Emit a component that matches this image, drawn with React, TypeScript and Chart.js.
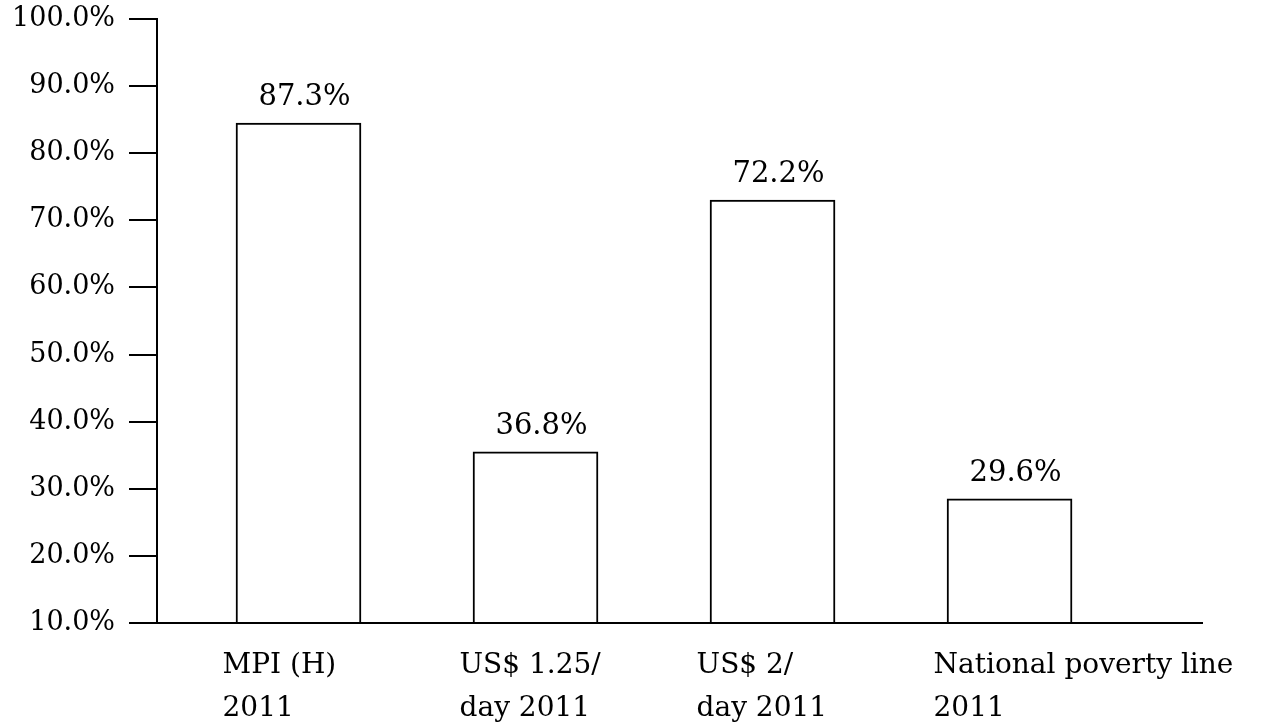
import React, { useEffect, useRef } from 'react';
import { Chart, registerables } from 'chart.js';

Chart.register(...registerables);

// ---- data ----
const categories: string[][] = [
  ['MPI (H)', '2011'],
  ['US$ 1.25/', 'day 2011'],
  ['US$ 2/', 'day 2011'],
  ['National poverty line', '2011'],
];
// bar heights as drawn in the picture
const barValues: number[] = [84.5, 35.5, 73.0, 28.5];
// labels printed above the bars
const valueLabels: string[] = ['87.3%', '36.8%', '72.2%', '29.6%'];
const yMin = 10;
const yMax = 100;
const yStep = 10;

const FONT = "'DejaVu Serif', 'Liberation Serif', serif";

const valueLabelPlugin = {
  id: 'valueLabels',
  afterDatasetsDraw(chart: any) {
    const ctx = chart.ctx;
    const meta = chart.getDatasetMeta(0);
    ctx.save();
    ctx.font = `29px ${FONT}`;
    ctx.fillStyle = '#000';
    ctx.textAlign = 'center';
    ctx.textBaseline = 'alphabetic';
    meta.data.forEach((bar: any, i: number) => {
      ctx.fillText(valueLabels[i], bar.x + 6, bar.y - 18);
    });
    ctx.restore();
  },
};

export default function App() {
  const canvasRef = useRef<HTMLCanvasElement | null>(null);

  useEffect(() => {
    if (!canvasRef.current) return;
    const chart = new Chart(canvasRef.current, {
      type: 'bar',
      data: {
        datasets: [
          {
            data: barValues.map((v, i) => ({ x: i + 1, y: v })),
            backgroundColor: '#ffffff',
            borderColor: '#000000',
            borderWidth: 2,
            borderSkipped: 'bottom',
            barThickness: 125,
            base: yMin,
          } as any,
        ],
      },
      options: {
        animation: false,
        responsive: true,
        maintainAspectRatio: false,
        layout: { padding: { top: 19, right: 84, left: 0, bottom: 0 } },
        plugins: {
          legend: { display: false },
          tooltip: { enabled: false },
        },
        scales: {
          x: {
            type: 'linear',
            offset: false,
            min: 0.403,
            max: 4.812,
            afterBuildTicks: (s: any) => {
              s.ticks = categories.map((_, i) => ({ value: i + 1 }));
            },
            afterFit: (s: any) => {
              s.height = 100;
              s.paddingLeft = 0;
              s.paddingRight = 0;
            },
            ticks: {
              autoSkip: false,
              maxRotation: 0,
              minRotation: 0,
              align: 'start',
              labelOffset: -76,
              padding: 21,
              color: '#000',
              font: { family: FONT, size: 28, lineHeight: 1.55 },
              callback: (v: any) => categories[Math.round(Number(v)) - 1] ?? '',
            },
            grid: { display: false, drawTicks: false, offset: false },
            border: { display: true, color: '#000', width: 2 },
          },
          y: {
            type: 'linear',
            min: yMin,
            max: yMax,
            afterFit: (s: any) => {
              s.width = 157;
              s.paddingTop = 0;
              s.paddingBottom = 0;
            },
            ticks: {
              stepSize: yStep,
              padding: 14,
              color: '#000',
              font: { family: FONT, size: 27 },
              callback: (v: any) => Number(v).toFixed(1) + '%',
            },
            grid: {
              drawOnChartArea: false,
              drawTicks: true,
              tickLength: 28,
              color: '#000',
              lineWidth: 2,
            },
            border: { display: true, color: '#000', width: 2 },
          },
        },
      } as any,
      plugins: [valueLabelPlugin],
    });
    return () => chart.destroy();
  }, []);

  return (
    <div style={{ position: 'fixed', left: 0, top: 0, width: 1286, height: 723, background: '#fff' }}>
      <canvas ref={canvasRef} />
    </div>
  );
}
